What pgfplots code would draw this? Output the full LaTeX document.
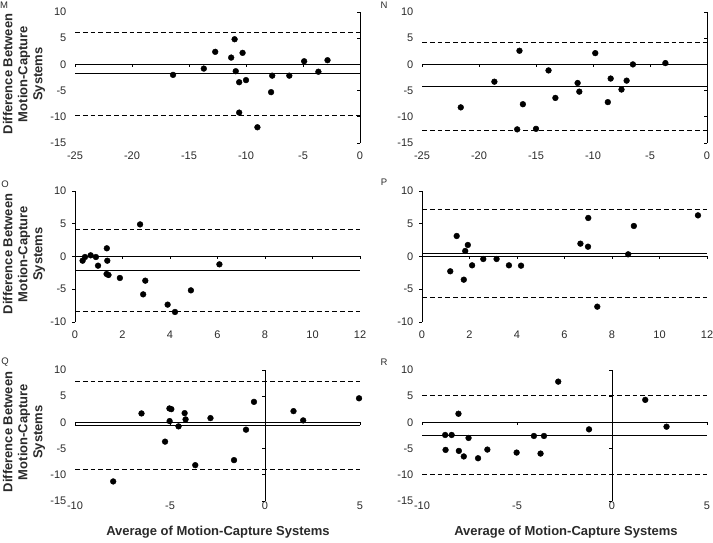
\documentclass[border=0pt]{standalone}
\usepackage{fontspec}
\setmainfont{Liberation Sans}
\usepackage{pgfplots}
\pgfplotsset{compat=1.18}
\definecolor{txt}{HTML}{2A2A2A}
\pgfplotsset{
  panel/.style={scale only axis, width=285pt, height=131pt, anchor=south west,
    axis x line*=bottom, axis y line*=left, axis line style={draw=none},
    tick style={draw=none}, clip=false,
    tick label style={font=\fontsize{11}{12}\selectfont, text=txt, inner sep=0pt},
    yticklabel style={anchor=east}, yticklabel shift=8.5pt,
    xticklabel style={anchor=center}, xticklabel shift=13pt},
  pts/.style={only marks, mark=*, mark size=2.9pt, black},
  mean/.style={black, line width=0.9pt, no marks},
  loa/.style={black, line width=0.9pt, dash pattern=on 4.8pt off 3pt, no marks},
}
\tikzset{axl/.style={black, line width=0.9pt}}
\newcommand{\xticks}[1]{\pgfplotsinvokeforeach{#1}{\draw[axl] (axis cs:##1,0) -- ([yshift=-3pt]axis cs:##1,0);}}
\newcommand{\yticks}[1]{\pgfplotsinvokeforeach{#1}{\draw[axl] (axis cs:0,##1) -- ([xshift=-3pt]axis cs:0,##1);}}
\begin{document}
\begin{tikzpicture}
\useasboundingbox (0pt,0pt) rectangle (713pt,543pt);
% ---------------- M
\begin{axis}[panel, at={(75pt,400pt)}, xmin=-25, xmax=0, ymin=-15, ymax=10,
  xtick={-25,-20,-15,-10,-5,0}, xticklabels={-25,-20,-15,-10,-5,0},
  ytick={-15,-10,-5,0,5,10}, yticklabels={-15,-10,-5,0,5,10}]
\draw[axl] (axis cs:-25,0) -- (axis cs:0,0);
\draw[axl] (axis cs:0,-15) -- (axis cs:0,10);
\xticks{-25,-20,-15,-10,-5}
\yticks{-15,-10,-5,0,5,10}
\addplot[mean] coordinates {(-25,-1.8) (0,-1.8)};
\addplot[loa] coordinates {(-25,6.15) (0,6.15)};
\addplot[loa] coordinates {(-25,-9.75) (0,-9.75)};
\addplot[pts] coordinates {(-16.4,-2.0) (-13.7,-0.8) (-12.7,2.4) (-11.0,4.8) (-11.3,1.3) (-10.3,2.2) (-10.9,-1.3) (-10.6,-3.4) (-10.0,-3.0) (-10.6,-9.2) (-9.0,-12.0) (-7.7,-2.15) (-7.8,-5.3) (-6.2,-2.15) (-4.9,0.6) (-3.65,-1.4) (-2.85,0.8)};
\end{axis}
% ---------------- N
\begin{axis}[panel, at={(422pt,400pt)}, xmin=-25, xmax=0, ymin=-15, ymax=10,
  xtick={-25,-20,-15,-10,-5,0}, xticklabels={-25,-20,-15,-10,-5,0},
  ytick={-15,-10,-5,0,5,10}, yticklabels={-15,-10,-5,0,5,10}]
\draw[axl] (axis cs:-25,0) -- (axis cs:0,0);
\draw[axl] (axis cs:0,-15) -- (axis cs:0,10);
\xticks{-25,-20,-15,-10,-5}
\yticks{-15,-10,-5,0,5,10}
\addplot[mean] coordinates {(-25,-4.3) (0,-4.3)};
\addplot[loa] coordinates {(-25,4.1) (0,4.1)};
\addplot[loa] coordinates {(-25,-12.7) (0,-12.7)};
\addplot[pts] coordinates {(-21.6,-8.2) (-18.65,-3.3) (-16.45,2.6) (-16.65,-12.4) (-16.15,-7.6) (-15.0,-12.3) (-13.9,-1.15) (-13.3,-6.4) (-11.35,-3.55) (-11.2,-5.2) (-9.8,2.15) (-8.7,-7.2) (-8.45,-2.7) (-7.5,-4.8) (-7.05,-3.1) (-6.5,0.0) (-3.65,0.25)};
\end{axis}
% ---------------- O
\begin{axis}[panel, at={(75pt,221pt)}, xmin=0, xmax=12, ymin=-10, ymax=10,
  xtick={0,2,4,6,8,10,12}, xticklabels={0,2,4,6,8,10,12},
  ytick={-10,-5,0,5,10}, yticklabels={-10,-5,0,5,10}]
\draw[axl] (axis cs:0,0) -- (axis cs:12,0);
\draw[axl] (axis cs:0,-10) -- (axis cs:0,10);
\xticks{2,4,6,8,10,12}
\yticks{-10,-5,0,5,10}
\addplot[mean] coordinates {(0,-2.15) (12,-2.15)};
\addplot[loa] coordinates {(0,4.15) (12,4.15)};
\addplot[loa] coordinates {(0,-8.4) (12,-8.4)};
\addplot[pts] coordinates {(0.32,-0.64) (0.42,-0.08) (0.66,0.18) (0.88,-0.08) (0.97,-1.4) (1.34,1.25) (1.36,-0.64) (1.33,-2.67) (1.41,-2.82) (1.89,-3.28) (2.74,4.9) (2.87,-5.78) (2.96,-3.69) (3.9,-7.35) (4.21,-8.47) (4.88,-5.17) (6.08,-1.2)};
\end{axis}
% ---------------- P
\begin{axis}[panel, at={(422pt,221pt)}, xmin=0, xmax=12, ymin=-10, ymax=10,
  xtick={0,2,4,6,8,10,12}, xticklabels={0,2,4,6,8,10,12},
  ytick={-10,-5,0,5,10}, yticklabels={-10,-5,0,5,10}]
\draw[axl] (axis cs:0,0) -- (axis cs:12,0);
\draw[axl] (axis cs:0,-10) -- (axis cs:0,10);
\xticks{2,4,6,8,10,12}
\yticks{-10,-5,0,5,10}
\addplot[mean] coordinates {(0,0.45) (12,0.45)};
\addplot[loa] coordinates {(0,7.15) (12,7.15)};
\addplot[loa] coordinates {(0,-6.2) (12,-6.2)};
\addplot[pts] coordinates {(1.19,-2.26) (1.46,3.13) (1.76,-3.54) (1.82,0.84) (1.93,1.76) (2.11,-1.35) (2.58,-0.38) (3.14,-0.38) (3.66,-1.35) (4.17,-1.4) (6.67,1.96) (7.0,5.88) (6.99,1.5) (7.38,-7.66) (8.68,0.33) (8.92,4.66) (11.62,6.28)};
\end{axis}
% ---------------- Q
\begin{axis}[panel, at={(75pt,42pt)}, xmin=-10, xmax=5, ymin=-15, ymax=10, xticklabel shift=5pt,
  xtick={-10,-5,0,5}, xticklabels={-10,-5,0,5},
  ytick={-15,-10,-5,0,5,10}, yticklabels={-15,-10,-5,0,5,10}]
\draw[axl] (axis cs:-10,0) -- (axis cs:5,0);
\draw[axl] (axis cs:0,-15) -- (axis cs:0,10);
\xticks{-10,-5,5}
\yticks{-15,-10,-5,0,5,10}
\addplot[mean] coordinates {(-10,-0.6) (5,-0.6)};
\addplot[loa] coordinates {(-10,7.8) (5,7.8)};
\addplot[loa] coordinates {(-10,-9.05) (5,-9.05)};
\addplot[pts] coordinates {(-7.99,-11.27) (-6.5,1.71) (-5.26,-3.67) (-5.03,2.66) (-5.02,0.25) (-4.93,2.53) (-4.55,-0.76) (-4.23,1.77) (-4.18,0.57) (-3.67,-8.16) (-2.87,0.82) (-1.63,-7.2) (-1.0,-1.39) (-0.58,3.92) (1.5,2.15) (2.01,0.38) (4.95,4.6)};
\end{axis}
% ---------------- R
\begin{axis}[panel, at={(422pt,42pt)}, xmin=-10, xmax=5, ymin=-15, ymax=10, xticklabel shift=5pt,
  xtick={-10,-5,0,5}, xticklabels={-10,-5,0,5},
  ytick={-15,-10,-5,0,5,10}, yticklabels={-15,-10,-5,0,5,10}]
\draw[axl] (axis cs:-10,0) -- (axis cs:5,0);
\draw[axl] (axis cs:0,-15) -- (axis cs:0,10);
\xticks{-10,-5,5}
\yticks{-15,-10,-5,0,5,10}
\addplot[mean] coordinates {(-10,-2.45) (5,-2.45)};
\addplot[loa] coordinates {(-10,5.05) (5,5.05)};
\addplot[loa] coordinates {(-10,-10.0) (5,-10.0)};
\addplot[pts] coordinates {(-8.78,-2.4) (-8.76,-5.25) (-8.44,-2.4) (-8.08,1.65) (-8.06,-5.44) (-7.8,-6.5) (-7.55,-2.97) (-7.05,-6.84) (-6.56,-5.19) (-5.02,-5.76) (-4.11,-2.59) (-3.76,-5.95) (-3.58,-2.59) (-2.83,7.78) (-1.21,-1.33) (1.75,4.3) (2.87,-0.82)};
\end{axis}
% ---------------- labels
\begin{scope}[every node/.style={text=txt, font=\fontsize{9.5}{10}\selectfont, inner sep=0pt}]
\node at (4pt,538pt) {M};
\node at (384pt,538pt) {N};
\node at (5pt,359pt) {O};
\node at (384pt,361pt) {P};
\node at (5pt,181pt) {Q};
\node at (384pt,181pt) {R};
\end{scope}
\begin{scope}[every node/.style={text=txt, font=\bfseries\fontsize{13}{15}\selectfont, inner sep=0pt, align=center}]
\node[rotate=90] at (24pt,469pt) {Difference Between\\Motion-Capture\\Systems};
\node[rotate=90] at (24pt,289pt) {Difference Between\\Motion-Capture\\Systems};
\node[rotate=90] at (24pt,111pt) {Difference Between\\Motion-Capture\\Systems};
\node at (218pt,11pt) {Average of Motion-Capture Systems};
\node at (566pt,11pt) {Average of Motion-Capture Systems};
\end{scope}
\end{tikzpicture}
\end{document}
